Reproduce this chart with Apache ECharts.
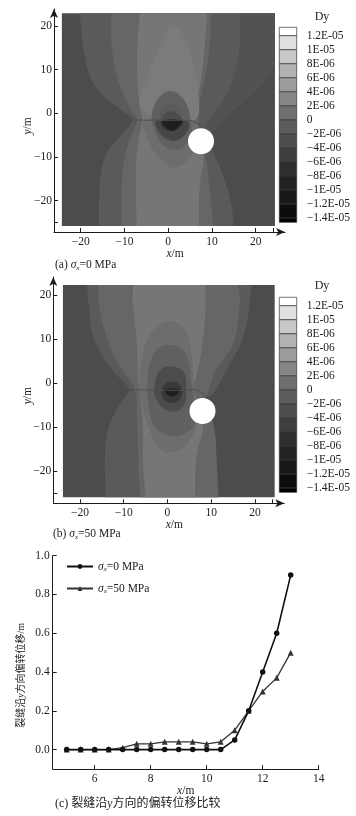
<!DOCTYPE html>
<html>
<head>
<meta charset="utf-8">
<title>Dy</title>
<script src="https://cdn.jsdelivr.net/npm/echarts@6/dist/echarts.min.js"></script>
<style>
html,body{margin:0;padding:0;background:#fff}
#main{width:356px;height:816px}
</style>
</head>
<body>
<div id="main"></div>
<script>
// contour regions, x/y in metres, painted back to front
var aOuter=[[-24.3,22.9],[24.4,22.9],[24.4,-25.8],[-24.3,-25.8]];
var aUpperRight=[[16.4,22.9],[24.4,22.9],[24.4,11.4],[20.2,5.3],[14.1,0],[10.3,-4.2],[8,-4],[12.6,3],[15.2,9.1],[16.5,16.8]];
var aBand1=[[-20.2,22.9],[-19.8,18.3],[-19,13],[-17.5,7.6],[-14.1,3.4],[-10.3,0.4],[-8.2,-1.5],[-11,-5.3],[-13.7,-8.4],[-15.2,-13],[-15.8,-20],[-15.8,-25.8],[14.9,-25.8],[14.5,-21.3],[12.6,-14.5],[10.3,-8.8],[8,-5],[9.5,-1.5],[12.6,3],[15.2,9.1],[16.5,16.8],[16.4,22.9]];
var aBand2=[[-13,22.9],[-13,16.8],[-12.2,10.7],[-10.7,5.3],[-8,0],[-7.1,-1.5],[-9.1,-6.9],[-10.3,-12.2],[-10.7,-19.8],[-10.7,-25.8],[10.3,-25.8],[9.5,-18],[8.5,-9.5],[7,-3],[7,1],[8.6,9],[9.5,16],[9.8,22.9]];
var aCentre=[[-6.5,22.9],[-7,16.8],[-7.1,9.1],[-6.5,1.5],[-5.9,-1.5],[-6.5,-4.6],[-7.2,-9.9],[-7.4,-16.8],[-7.2,-25.8],[7,-25.8],[7.2,-16.8],[8,-9.1],[6,-3],[6.5,1.5],[7.6,8.4],[8.4,16],[8.9,22.9]];
var aInner=[[-6,1],[-4.5,9],[-2,15],[0.5,20],[3,18.5],[5.5,12],[6.8,5],[6,-1.5]];
var aLobe=[[-5.3,-1.5],[-4.2,-6.9],[-1.9,-10.3],[1.5,-12.5],[5.3,-9.5],[7,-6],[6,-2]];
var aCore1=[[-3.8,-1.5],[-3.4,1.1],[-1.9,3.8],[0.4,5.1],[3,3.8],[4.6,1.1],[5.1,-1.4],[5.3,-5.3],[4.2,-7.2],[1.5,-8.4],[-1.5,-6.9],[-3.4,-3]];
var aCore2=[[-2.1,-1.4],[-1.5,1.1],[0.4,2.3],[2.7,1.1],[3.4,-1.4],[4.6,-2.3],[3.8,-5],[1.1,-6.3],[-1.9,-4.6],[-2.7,-1.9]];
var aCore2Low=[[-2.7,-1.7],[4.6,-2],[3.8,-5],[1.1,-6.3],[-1.9,-4.6]];
var aCore3=[[-1.5,-1.5],[-1.1,-0.4],[0.4,0.5],[1.9,0],[3.2,-1.5],[3,-3],[0.4,-4.2],[-1.5,-3]];
var aCore3Low=[[-1.5,-1.7],[3.2,-1.7],[3,-3],[0.4,-4.2],[-1.5,-3]];
var aCore4=[[-1.3,-1.7],[3.2,-1.7],[2.7,-2.7],[1.1,-4],[-0.8,-3]];
var aRegions=[aOuter,aUpperRight,aBand1,aBand2,aCentre,aInner,aLobe,aCore1,aCore2,aCore2Low,aCore3,aCore3Low,aCore4];
var aLevels=[-3,-2.5,-2,-1,1,1.5,0,-1.5,-2,-3.5,-3,-5,-9];
var aEdgeY=[22.9,-25.8];
var aCrack=[[-8.2,-1.5],[-2,-1.6],[1,-1.6],[5,-1.6],[7,-2.6],[8.3,-3.6]];
var aHole=[[7.5,-6.4]];

var bOuter=[[-23.9,22.4],[24.5,22.4],[24.5,-25.9],[-23.9,-25.9]];
var bBand1=[[-18.4,22.4],[-17.8,15.9],[-17,10.6],[-13.2,3.8],[-9,-0.8],[-8.8,-1.7],[-11.7,-6.1],[-13.6,-10.6],[-14.3,-16.7],[-14.1,-25.9],[11.6,-25.9],[11.2,-16.7],[10.4,-9.1],[8,-4],[10.4,-2.3],[13.5,3],[17.3,10.6],[18.8,18.2],[19.2,22.4]];
var bBand2=[[-15.9,22.4],[-15.5,16.7],[-13.9,10.6],[-11.7,5.3],[-7.9,-0.4],[-7.5,-1.7],[-7.1,-3],[-6.9,-9.8],[-6.7,-17.4],[-6.3,-25.9],[11.6,-25.9],[11.2,-16.7],[10.4,-9.1],[8,-4],[9.1,-2.3],[11,3],[15,9],[16.5,18],[16.2,22.4]];
var bCentre=[[-7.9,22.4],[-7.9,18.2],[-7.1,10.6],[-6.7,0],[-6.3,-2.3],[-5.6,-9.8],[-5.6,-17.4],[-5,-25.9],[6.3,-25.9],[6.6,-16.7],[8.2,-9.1],[6.5,-3],[5.5,-1.5],[6.6,1.5],[8.2,10.6],[8.7,18.2],[8.7,22.4]];
var bCore0=[[0.5,14.2],[-3.3,12.1],[-5.6,6.8],[-6.5,0],[-5.9,-4.5],[-4.4,-9.8],[-2.1,-14.4],[0.5,-15.8],[4.3,-14],[6.6,-9.8],[7.4,-6.8],[6.2,-3],[5.9,0],[5.5,6.8],[4,12.1]];
var bCore1=[[0.5,8.7],[-2.5,7.6],[-4,4.5],[-4.6,0],[-4.4,-4.5],[-2.9,-9.8],[0.5,-11.9],[4,-11.4],[6.2,-9.1],[5.9,-3],[5.5,0],[4.7,5.3],[3.2,8]];
var bCore2=[[0.5,3.9],[-1.7,3],[-2.9,0],[-2.5,-3.8],[0.5,-6.4],[3.6,-5.3],[4.3,-0.8],[3.6,2.7]];
var bCore3=[[0.9,0.4],[-0.8,-0.4],[-1.4,-1.9],[-0.6,-3.9],[1.3,-4.5],[3,-3.4],[3.4,-1.5],[2.4,0]];
var bCore4=[[-0.6,-1.4],[2.8,-1.4],[2,-2.7],[0.9,-3],[-0.2,-2.4]];
var bRegions=[bOuter,bBand1,bBand2,bCentre,bCore0,bCore1,bCore2,bCore3,bCore4];
var bLevels=[-3,-2,-1,1,0,-1.5,-3,-5,-9];
var bEdgeY=[22.4,-25.9];
var bCrack=[[-8.8,-1.5],[-2,-1.5],[2,-1.6],[6.6,-1.5],[8.5,-2.7]];
var bHole=[[8,-6.3]];

// colour bar
var dyLevels=[12,10,8,6,4,2,0,-2,-4,-6,-8,-10,-12,-14];
var dyLabels=['1.2E-05','1E-05','8E-06','6E-06','4E-06','2E-06','0','−2E-06','−4E-06','−6E-06','−8E-06','−1E-05','−1.2E-05','−1.4E-05'];
var dyCells=[[12,13.2],[10,12],[8,10],[6,8],[4,6],[2,4],[0,2],[-2,0],[-4,-2],[-6,-4],[-8,-6],[-10,-8],[-12,-10],[-14,-12],[-14.6,-14]];
var cellShades=['#ffffff','#e0e0e0','#c8c8c8','#b2b2b2','#9c9c9c','#868686','#6e6e6e','#5c5c5c','#4e4e4e','#3e3e3e','#2e2e2e','#222222','#181818','#0c0c0c','#000000'];
var fieldShades={'1.5':'#7b7b7b','1':'#767676','0':'#6d6d6d','-1':'#666666','-1.5':'#606060','-2':'#5a5a5a','-2.5':'#525252','-3':'#4c4c4c','-3.5':'#464646','-5':'#383838','-9':'#1e1e1e'};

var fieldTicksX=[-20,-10,0,10,20,24];
var fieldLabelsX=[-20,-10,0,10,20];
var fieldTicksY=[-25,-20,-10,0,10,20];
var fieldLabelsY=[-20,-10,0,10,20];

// crack deflection
var crackX=[5,5.5,6,6.5,7,7.5,8,8.5,9,9.5,10,10.5,11,11.5,12,12.5,13];
var sigma0=[0,0,0,0,0,0,0,0,0,0,0,0,0.05,0.2,0.4,0.6,0.9];
var sigma50=[0,0,0,0,0.01,0.03,0.03,0.04,0.04,0.04,0.03,0.04,0.1,0.2,0.3,0.37,0.5];
var lineTicksX=[6,8,10,12,14];
var lineTicksY=[0,0.2,0.4,0.6,0.8,1];

var serif='"Liberation Serif","Noto Sans CJK SC",serif';
var ink='#1c1c1c';
var base={fontFamily:serif,fontSize:11.5,color:ink};
var subRich={
  i:{fontFamily:serif,fontSize:11.5,fontStyle:'italic',color:ink},
  s:{fontFamily:serif,fontSize:7,fontStyle:'italic',color:ink,lineHeight:9,padding:[6,0,0,0]}
};

var myChart=echarts.init(document.getElementById('main'),null,{renderer:'canvas'});

function minus(v){return String(v).replace('-','−');}

function fieldAxes(gridIndex,xMin,xMax,yMin,yMax){
  var line={onZero:false,symbol:['none','arrow'],symbolSize:[6,9],lineStyle:{color:ink,width:1}};
  return {
    x:{type:'value',gridIndex:gridIndex,min:xMin,max:xMax,name:'{i|x}/m',nameLocation:'middle',nameGap:15,
      nameTextStyle:{fontFamily:serif,fontSize:11.5,color:ink,padding:[0,0,0,11],rich:subRich},
      axisLine:line,axisTick:{inside:true,length:4,customValues:fieldTicksX,lineStyle:{color:ink}},
      axisLabel:Object.assign({},base,{margin:4,customValues:fieldLabelsX,formatter:minus}),splitLine:{show:false}},
    y:{type:'value',gridIndex:gridIndex,min:yMin,max:yMax,name:'{i|y}/m',nameLocation:'middle',nameGap:20,nameMoveOverlap:false,
      nameTextStyle:{fontFamily:serif,fontSize:11.5,color:ink,padding:[0,11,0,0],rich:subRich},
      axisLine:line,axisTick:{inside:true,length:4,customValues:fieldTicksY,lineStyle:{color:ink}},
      axisLabel:Object.assign({},base,{margin:2,customValues:fieldLabelsY,formatter:minus}),splitLine:{show:false}}
  };
}

function barAxes(gridIndex){
  return {
    x:{type:'value',gridIndex:gridIndex,min:0,max:1,show:false},
    y:{type:'value',gridIndex:gridIndex,position:'right',min:-14.6,max:13.2,
      axisLine:{show:false},axisTick:{show:false},splitLine:{show:false},
      axisLabel:Object.assign({},base,{margin:10,align:'left',customValues:dyLevels,formatter:function(v){
        return dyLabels[dyLevels.indexOf(v)];
      }})}
  };
}

// points on the top/bottom plot edge are doubled so the spline keeps the corner sharp
function regionSeries(axisIndex,regions,levels,edgeY){
  return {
    type:'custom',xAxisIndex:axisIndex,yAxisIndex:axisIndex,silent:true,z:1,clip:true,
    data:regions.map(function(r,i){return [i];}),
    renderItem:function(params,api){
      var i=api.value(0);
      var pts=[];
      regions[i].forEach(function(p){
        var c=api.coord(p);
        pts.push(c);
        if(edgeY.indexOf(p[1])>=0) pts.push([c[0],c[1]]);
      });
      var bounds=[api.coord(regions[0][0]),api.coord(regions[0][2])];
      return {type:'polygon',shape:{points:pts,smooth:i===0?0:0.4,smoothConstraint:bounds},
        style:{fill:fieldShades[String(levels[i])]}};
    }
  };
}

function barSeries(axisIndex){
  return {
    type:'custom',xAxisIndex:axisIndex,yAxisIndex:axisIndex,silent:true,clip:false,
    data:dyCells.map(function(r,i){return [i];}),
    renderItem:function(params,api){
      var i=api.value(0);
      var p0=api.coord([0,dyCells[i][1]]);
      var p1=api.coord([1,dyCells[i][0]]);
      return {type:'rect',shape:{x:p0[0],y:p0[1],width:p1[0]-p0[0],height:p1[1]-p0[1]},
        style:{fill:cellShades[i],stroke:'#383838',lineWidth:0.7}};
    }
  };
}

function crackSeries(axisIndex,crack){
  return {type:'line',xAxisIndex:axisIndex,yAxisIndex:axisIndex,data:crack,showSymbol:false,silent:true,z:3,smooth:0.3,
    lineStyle:{color:'#4e4e4e',width:1}};
}

function holeSeries(axisIndex,hole){
  return {type:'scatter',xAxisIndex:axisIndex,yAxisIndex:axisIndex,data:hole,symbolSize:26,silent:true,z:4,
    itemStyle:{color:'#fff',opacity:1}};
}

var axA=fieldAxes(0,-26.1,26.7,-27.2,23.9);
var axB=fieldAxes(2,-26.1,26.7,-27.3,24.2);
var barA=barAxes(1);
var barB=barAxes(3);

var option={
  backgroundColor:'#fff',
  animation:false,
  title:[
    {text:'Dy',left:322,top:17,textAlign:'center',textVerticalAlign:'middle',padding:0,textStyle:{fontFamily:serif,fontSize:12,fontWeight:'normal',color:ink}},
    {text:'Dy',left:322,top:286,textAlign:'center',textVerticalAlign:'middle',padding:0,textStyle:{fontFamily:serif,fontSize:12,fontWeight:'normal',color:ink}},
    {text:'(a) {i|σ}{s|x}=0 MPa',left:55,top:259,padding:0,textStyle:{fontFamily:serif,fontSize:11.5,fontWeight:'normal',color:ink,rich:subRich}},
    {text:'(b) {i|σ}{s|x}=50 MPa',left:53,top:528,padding:0,textStyle:{fontFamily:serif,fontSize:11.5,fontWeight:'normal',color:ink,rich:subRich}},
    {text:'(c) 裂缝沿{i|y}方向的偏转位移比较',left:55,top:798,padding:0,textStyle:{fontFamily:serif,fontSize:12,fontWeight:'normal',color:ink,rich:subRich}}
  ],
  legend:{
    orient:'vertical',left:66,top:560,itemWidth:26,itemHeight:6,itemGap:9,padding:0,
    data:['σx=0 MPa','σx=50 MPa'],
    formatter:function(name){return '{i|σ}{s|x}'+name.slice(2);},
    textStyle:{fontFamily:serif,fontSize:11.5,color:ink,rich:subRich}
  },
  grid:[
    {left:54,top:9,width:231,height:223},
    {left:279.3,top:27.3,width:17.4,height:195},
    {left:53.3,top:277,width:231,height:226.3},
    {left:279.3,top:297.3,width:17.4,height:195},
    {left:52.7,top:555.7,width:266,height:213.3}
  ],
  xAxis:[axA.x,barA.x,axB.x,barB.x,{
    type:'value',gridIndex:4,min:4.5,max:14,name:'{i|x}/m',nameLocation:'middle',nameGap:15,
    nameTextStyle:{fontFamily:serif,fontSize:11.5,color:ink,rich:subRich},
    axisLine:{onZero:false,lineStyle:{color:ink,width:1}},
    axisTick:{inside:true,length:4,customValues:lineTicksX,lineStyle:{color:ink}},
    axisLabel:Object.assign({},base,{margin:4,customValues:lineTicksX}),splitLine:{show:false}
  }],
  yAxis:[axA.y,barA.y,axB.y,barB.y,{
    type:'value',gridIndex:4,min:-0.1,max:1,name:'裂缝沿{i|y}方向偏转位移/m',nameLocation:'middle',nameGap:26,nameMoveOverlap:false,
    nameTextStyle:{fontFamily:serif,fontSize:10,color:ink,padding:[0,26,0,0],rich:{i:{fontFamily:serif,fontSize:10,fontStyle:'italic',color:ink}}},
    axisLine:{onZero:false,lineStyle:{color:ink,width:1}},
    axisTick:{inside:true,length:4,customValues:lineTicksY,lineStyle:{color:ink}},
    axisLabel:Object.assign({},base,{margin:3,customValues:lineTicksY,formatter:function(v){return v.toFixed(1);}}),splitLine:{show:false}
  }],
  series:[
    regionSeries(0,aRegions,aLevels,aEdgeY),
    crackSeries(0,aCrack),
    holeSeries(0,aHole),
    barSeries(1),
    regionSeries(2,bRegions,bLevels,bEdgeY),
    crackSeries(2,bCrack),
    holeSeries(2,bHole),
    barSeries(3),
    {name:'σx=50 MPa',type:'line',xAxisIndex:4,yAxisIndex:4,symbol:'triangle',symbolSize:6,
      data:crackX.map(function(x,i){return [x,sigma50[i]];}),
      lineStyle:{color:'#333',width:1.3},itemStyle:{color:'#333'}},
    {name:'σx=0 MPa',type:'line',xAxisIndex:4,yAxisIndex:4,symbol:'circle',symbolSize:5.5,
      data:crackX.map(function(x,i){return [x,sigma0[i]];}),
      lineStyle:{color:'#111',width:1.6},itemStyle:{color:'#111'}}
  ]
};
myChart.setOption(option);
</script>
</body>
</html>
